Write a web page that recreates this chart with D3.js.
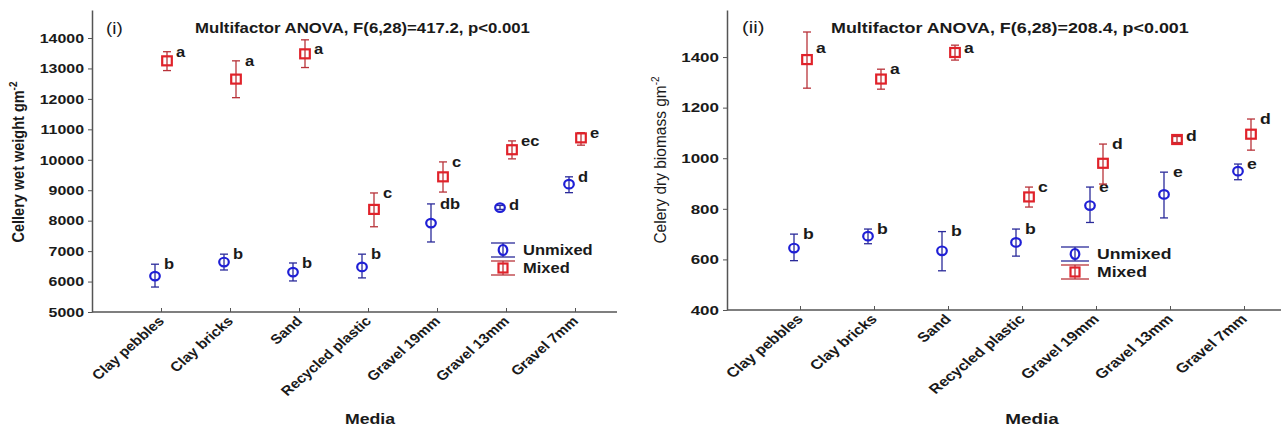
<!DOCTYPE html>
<html>
<head>
<meta charset="utf-8">
<script src="https://cdn.jsdelivr.net/npm/d3@7"></script>
<style>
  body { margin: 0; background: #fff; }
  svg { display: block; font-family: "Liberation Sans", Arial, sans-serif; }
</style>
</head>
<body>
<svg id="chart" width="1282" height="428"></svg>
<script>
// DATA (mean, low, high)
const media = ["Clay pebbles", "Clay bricks", "Sand", "Recycled plastic", "Gravel 19mm", "Gravel 13mm", "Gravel 7mm"];

const wetUnmixed = [[6180, 5820, 6570], [6640, 6380, 6900], [6310, 6020, 6610], [6480, 6120, 6900],
                    [7920, 7300, 8550], [8430, 8370, 8500], [9200, 8920, 9440]];
const wetMixed   = [[13250, 12930, 13550], [12650, 12040, 13250], [13480, 13030, 13940], [8370, 7800, 8910],
                    [9440, 8940, 9930], [10330, 10030, 10620], [10720, 10480, 10890]];
const wetUnmixedLetters = ["b", "b", "b", "b", "db", "d", "d"];
const wetMixedLetters   = ["a", "a", "a", "c", "c", "ec", "e"];
const wetTicks = [5000, 6000, 7000, 8000, 9000, 10000, 11000, 12000, 13000, 14000];

const dryUnmixed = [[645, 595, 700], [692, 662, 720], [634, 555, 710], [667, 613, 720],
                    [813, 746, 886], [857, 764, 945], [949, 915, 977]];
const dryMixed   = [[1390, 1277, 1499], [1313, 1273, 1352], [1418, 1388, 1447], [847, 807, 886],
                    [980, 898, 1056], [1074, 1062, 1086], [1095, 1032, 1155]];
const dryUnmixedLetters = ["b", "b", "b", "b", "e", "e", "e"];
const dryMixedLetters   = ["a", "a", "a", "c", "d", "d", "d"];
const dryTicks = [400, 600, 800, 1000, 1200, 1400];

const seriesNames = ["Unmixed", "Mixed"];

// STYLE
const _color = {
  axis: "#555",
  text: "#1a1a1a",
  blue: "#1f1fd6",
  blueBar: "#2a2a9a",
  red: "#e0222a",
  redBar: "#b8333a"
};
const _font = '"Liberation Sans", Arial, sans-serif';

const svg = d3.select("#chart");

function drawPanel(opt) {
  const g = svg.append("g");
  const sx = opt.sx;

  const x = d3.scalePoint().domain(media).range(opt.xRange);
  const y = d3.scaleLinear().domain(opt.yDomain).range([opt.yBottom, opt.yTop]);

  // y axis
  const yAxis = g.append("g")
      .attr("transform", `translate(${opt.xAxis[0]},0)`)
      .call(d3.axisLeft(y).tickValues(opt.ticks).tickFormat(d3.format("d")).tickSizeInner(4).tickSizeOuter(0));
  yAxis.select(".domain").attr("stroke", _color.axis).attr("stroke-width", 1.5);
  yAxis.selectAll(".tick line").attr("stroke", _color.axis);
  yAxis.selectAll(".tick text")
      .attr("x", null)
      .attr("transform", `translate(-8,0) scale(${sx},1)`)
      .attr("font-family", _font)
      .attr("font-size", 13.5)
      .attr("font-weight", "bold")
      .attr("fill", _color.text);

  // x axis
  const xAxis = g.append("g")
      .attr("transform", `translate(0,${opt.yBottom})`)
      .call(d3.axisBottom(x).tickSizeInner(-4).tickSizeOuter(0).tickFormat(""));
  xAxis.select(".domain").remove();
  xAxis.selectAll(".tick line").attr("stroke", _color.axis);
  g.append("line")
      .attr("x1", opt.xAxis[0]).attr("x2", opt.xAxis[1])
      .attr("y1", opt.yBottom).attr("y2", opt.yBottom)
      .attr("stroke", _color.axis).attr("stroke-width", 1.5);

  g.selectAll("text.cat")
    .data(media)
    .enter()
    .append("text")
      .attr("class", "cat")
      .attr("transform", d => `translate(${x(d) + 4},${opt.yBottom + 10}) scale(${sx * 0.96},1) rotate(-45)`)
      .attr("text-anchor", "end")
      .attr("font-size", 13.5)
      .attr("font-weight", "bold")
      .attr("fill", _color.text)
      .text(d => d);

  // series
  const series = [
    {vals: opt.unmixed, letters: opt.unmixedLetters, dx: -6, shape: "circle", col: _color.blue, bar: _color.blueBar},
    {vals: opt.mixed, letters: opt.mixedLetters, dx: opt.mixedDx, shape: "square", col: _color.red, bar: _color.redBar}
  ];

  series.forEach(s => {
    const pts = g.append("g").selectAll("g")
      .data(s.vals.map((v, i) => ({cat: media[i], mean: v[0], lo: v[1], hi: v[2], letter: s.letters[i]})))
      .enter()
      .append("g")
        .attr("transform", d => `translate(${x(d.cat) + s.dx},0)`);

    pts.append("line")
        .attr("x1", 0).attr("x2", 0)
        .attr("y1", d => y(d.lo)).attr("y2", d => y(d.hi))
        .attr("stroke", s.bar).attr("stroke-width", 1.3);
    pts.append("line")
        .attr("x1", -4).attr("x2", 4)
        .attr("y1", d => y(d.lo)).attr("y2", d => y(d.lo))
        .attr("stroke", s.bar).attr("stroke-width", 1.3);
    pts.append("line")
        .attr("x1", -4).attr("x2", 4)
        .attr("y1", d => y(d.hi)).attr("y2", d => y(d.hi))
        .attr("stroke", s.bar).attr("stroke-width", 1.3);

    if (s.shape == "circle") {
      pts.append("ellipse")
          .attr("cx", 0).attr("cy", d => y(d.mean))
          .attr("rx", 4.8).attr("ry", 4.3)
          .attr("fill", "none").attr("stroke", s.col).attr("stroke-width", 2.2);
    } else {
      pts.append("rect")
          .attr("x", -4.8).attr("y", d => y(d.mean) - 4.5)
          .attr("width", 9.6).attr("height", 9)
          .attr("fill", "none").attr("stroke", s.col).attr("stroke-width", 2.2);
    }

    // letters sit at the top of the bar, kept below the title line
    pts.append("text")
        .attr("transform", d => `translate(9,${Math.max(y(d.hi), opt.letterMinY)}) scale(${sx},1)`)
        .attr("dy", "0.35em")
        .attr("font-size", 14)
        .attr("font-weight", "bold")
        .attr("fill", _color.text)
        .text(d => d.letter);
  });

  // legend
  const leg = g.append("g").selectAll("g")
    .data(seriesNames)
    .enter()
    .append("g")
      .attr("transform", (d, i) => `translate(${opt.legend[0]},${opt.legend[1] + i * opt.legendGap})`);
  leg.append("line")
      .attr("x1", 0).attr("x2", 0).attr("y1", -7).attr("y2", 7)
      .attr("stroke", (d, i) => i == 0 ? _color.blueBar : _color.redBar).attr("stroke-width", 1.3);
  leg.append("line")
      .attr("x1", -opt.legendW).attr("x2", opt.legendW).attr("y1", -7).attr("y2", -7)
      .attr("stroke", (d, i) => i == 0 ? _color.blueBar : _color.redBar).attr("stroke-width", 1.3);
  leg.append("line")
      .attr("x1", -opt.legendW).attr("x2", opt.legendW).attr("y1", 7).attr("y2", 7)
      .attr("stroke", (d, i) => i == 0 ? _color.blueBar : _color.redBar).attr("stroke-width", 1.3);
  leg.filter((d, i) => i == 0).append("ellipse")
      .attr("rx", 4.3).attr("ry", 5)
      .attr("fill", "none").attr("stroke", _color.blue).attr("stroke-width", 2.2);
  leg.filter((d, i) => i == 1).append("rect")
      .attr("x", -4.5).attr("y", -4.5).attr("width", 9).attr("height", 9)
      .attr("fill", "none").attr("stroke", _color.red).attr("stroke-width", 2.2);
  leg.append("text")
      .attr("transform", `translate(${opt.legendW + 8},0) scale(${sx},1)`)
      .attr("dy", "0.35em")
      .attr("font-size", 14)
      .attr("font-weight", "bold")
      .attr("fill", _color.text)
      .text(d => d);

  // titles and labels
  g.append("text")
      .attr("transform", `translate(${opt.tag[0]},${opt.tag[1]}) scale(${sx},1)`)
      .attr("font-size", 16)
      .attr("fill", _color.text)
      .text(opt.tagText);
  g.append("text")
      .attr("transform", `translate(${opt.title[0]},${opt.title[1]}) scale(${sx},1)`)
      .attr("font-size", 14.2)
      .attr("font-weight", "bold")
      .attr("fill", _color.text)
      .text(opt.titleText);
  g.append("text")
      .attr("transform", `translate(${opt.media[0]},${opt.media[1]}) scale(${sx},1)`)
      .attr("text-anchor", "middle")
      .attr("font-size", 15)
      .attr("font-weight", "bold")
      .attr("fill", _color.text)
      .text("Media");

  const yl = g.append("text")
      .attr("transform", `translate(${opt.yLabel[0]},${opt.yLabel[1]}) scale(1.12,1) rotate(-90)`)
      .attr("text-anchor", "middle")
      .attr("font-size", opt.yLabelSize)
      .attr("font-weight", opt.yLabelWeight)
      .attr("fill", _color.text);
  yl.append("tspan").text(opt.yLabelText);
  yl.append("tspan").attr("dy", -6).attr("font-size", 10).text("-2");
}

drawPanel({
  sx: 1.18,
  xRange: [161, 575], xAxis: [92, 617], yBottom: 312, yTop: 10, yDomain: [5000, 14920],
  ticks: wetTicks, unmixed: wetUnmixed, mixed: wetMixed, mixedDx: 6, letterMinY: 49,
  unmixedLetters: wetUnmixedLetters, mixedLetters: wetMixedLetters,
  legend: [503, 250], legendGap: 18, legendW: 12,
  tag: [106, 34], tagText: "(i)",
  title: [195, 33], titleText: "Multifactor ANOVA, F(6,28)=417.2, p<0.001",
  media: [370, 424],
  yLabel: [24, 162], yLabelSize: 14.5, yLabelWeight: "bold", yLabelText: "Cellery wet weight gm"
});

drawPanel({
  sx: 1.26,
  xRange: [800, 1244], xAxis: [727, 1281], yBottom: 310, yTop: 10, yDomain: [400, 1586],
  ticks: dryTicks, unmixed: dryUnmixed, mixed: dryMixed, mixedDx: 7, letterMinY: 48,
  unmixedLetters: dryUnmixedLetters, mixedLetters: dryMixedLetters,
  legend: [1075, 254], legendGap: 18, legendW: 14,
  tag: [742, 33], tagText: "(ii)",
  title: [831, 33], titleText: "Multifactor ANOVA, F(6,28)=208.4, p<0.001",
  media: [1032, 424],
  yLabel: [666, 160], yLabelSize: 15.5, yLabelWeight: "normal", yLabelText: "Celery dry biomass gm"
});
</script>
</body>
</html>
